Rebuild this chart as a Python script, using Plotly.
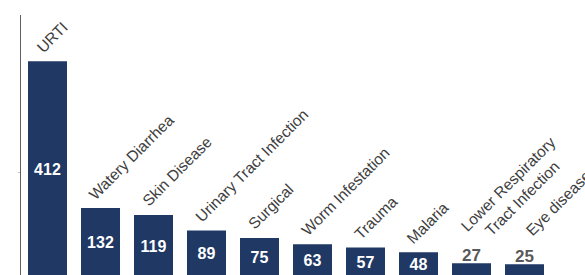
import plotly.graph_objects as go

categories = ["URTI", "Watery Diarrhea", "Skin Disease", "Urinary Tract Infection",
              "Surgical", "Worm Infestation", "Trauma", "Malaria",
              "Lower Respiratory<br>Tract Infection", "Eye disease"]
cases = [412, 132, 119, 89, 75, 63, 57, 48, 27, 25]

BAR = "#1F3864"
FONT = "Arial, Liberation Sans, sans-serif"
threshold = 40  # values below this get their number above the bar

inside = [v >= threshold for v in cases]

fig = go.Figure(go.Bar(
    x=categories, y=cases,
    marker=dict(color=BAR, line=dict(width=0)),
    text=[str(v) if ins else "" for v, ins in zip(cases, inside)],
    textposition="inside",
    insidetextanchor="middle",
    constraintext="none",
    insidetextfont=dict(family=FONT, size=16, color="white", weight="bold"),
    hoverinfo="skip",
    cliponaxis=False,
))

annotations = []
for c, v, ins in zip(categories, cases, inside):
    if ins:
        xs, ys = -16, 4
    else:
        # value label sits just above a short bar; category label goes above it
        annotations.append(dict(
            x=c, y=v, xref="x", yref="y", text=str(v), showarrow=False,
            xanchor="center", yanchor="bottom", yshift=-3, borderpad=0,
            font=dict(family=FONT, size=17, color="#595959", weight="bold"),
        ))
        multiline = "<br>" in c
        xs, ys = (-16, 13) if multiline else (-4, 24)
    annotations.append(dict(
        x=c, y=v, xref="x", yref="y",
        text=c, showarrow=False, textangle=-45,
        xanchor="left", yanchor="bottom", align="center",
        xshift=xs, yshift=ys,
        borderpad=0,
        font=dict(family=FONT, size=15.5, color="#404040"),
    ))

fig.update_layout(
    width=585, height=275,
    margin=dict(l=21, r=34, t=15, b=0),
    paper_bgcolor="white", plot_bgcolor="white",
    bargap=0.264,
    showlegend=False,
    annotations=annotations,
    xaxis=dict(showticklabels=False, showgrid=False, zeroline=False,
               showline=False, ticks="", range=[-0.5, 9.5]),
    yaxis=dict(range=[4.4, 500], showgrid=False, zeroline=False,
               showline=True, linecolor="#606060", linewidth=1,
               tickvals=[200], ticks="outside", ticklen=2,
               tickcolor="#c0c0c0", showticklabels=False),
)

fig.write_html("out.html", config={"displayModeBar": False},
               post_script="document.body.style.margin='0';document.body.style.padding='0';")
